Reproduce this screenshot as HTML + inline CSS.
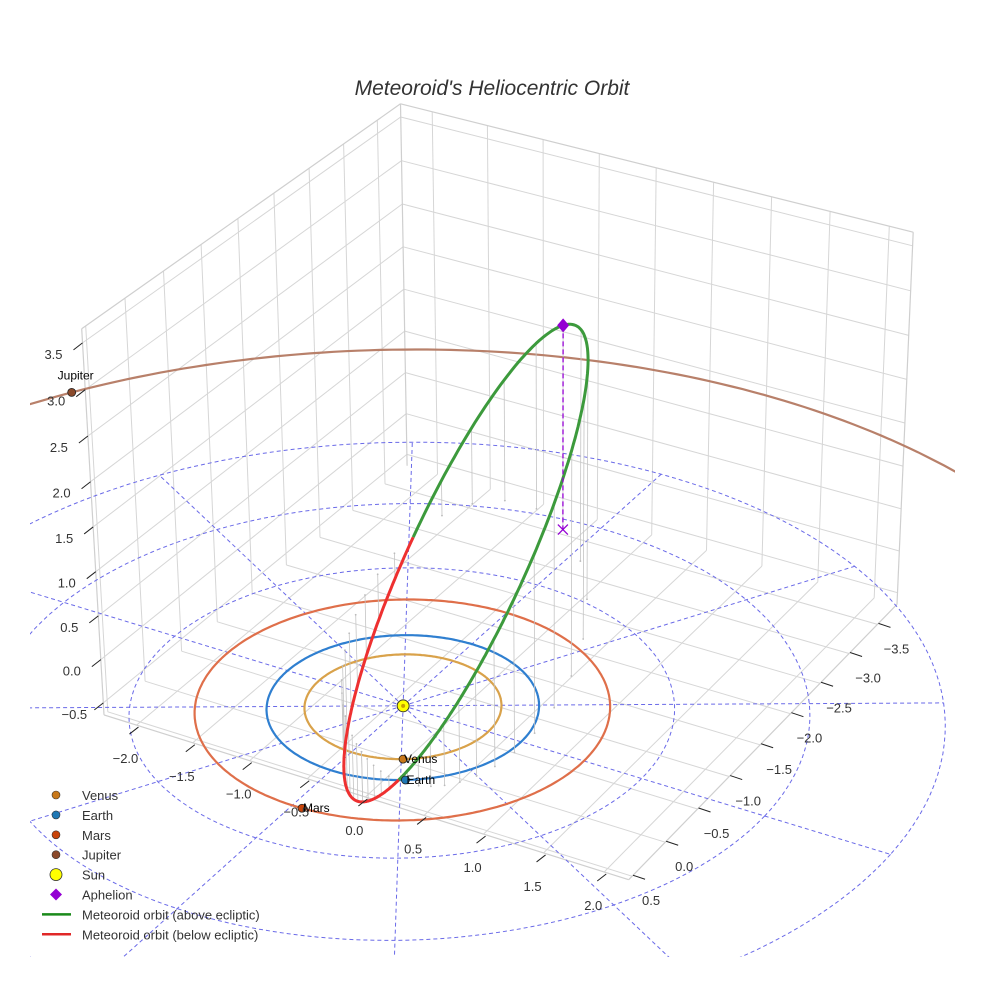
<!DOCTYPE html>
<html><head><meta charset="utf-8"><style>
html,body{margin:0;padding:0;background:#fff;overflow:hidden;width:984px;height:984px;}
svg{display:block;font-family:"Liberation Sans",Arial,sans-serif;}
</style></head><body>
<svg id="chart" width="984" height="984" viewBox="0 0 984 984" xmlns="http://www.w3.org/2000/svg" overflow="hidden">
<defs><clipPath id="scene-clip"><rect x="30" y="30" width="925" height="927"/></clipPath></defs>
<rect width="984" height="984" fill="#fff"/>
<g id="scene" clip-path="url(#scene-clip)"></g>
<g id="overlay"></g>
<text x="492" y="95" text-anchor="middle" font-size="21" font-style="italic" fill="#333">Meteoroid's Heliocentric Orbit</text>
<g id="legend"></g>
</svg>
<script>
// ---- data ----
const planetNames = ["Venus", "Earth", "Mars", "Jupiter"];
const planetRadiusAU = [0.723, 1.0, 1.524, 5.6];
const planetAngleDeg = [59, 58, 87, 210];
const planetOrbitColors = ["#d9a24a", "#2f7fd0", "#df6f4a", "#b8806a"];
const planetMarkerColors = ["#c8781a", "#1f77b4", "#c8440a", "#8b4a2b"];
const orbitSemiMajor = [2.3];
const orbitEccentricity = [0.612];
const orbitInclinationDeg = [64];
const orbitAscNodeDeg = [241];
const orbitArgPeriDeg = [225.4];
const eclipticRingRadii = [1, 2, 3, 4];
const eclipticSpokeAngles = [0, 30, 60, 90, 120, 150, 180, 210, 240, 270, 300, 330];
const xTicks = [-2.0, -1.5, -1.0, -0.5, 0.0, 0.5, 1.0, 1.5, 2.0];
const yTicks = [-3.5, -3.0, -2.5, -2.0, -1.5, -1.0, -0.5, 0.0, 0.5];
const zTicks = [-0.5, 0.0, 0.5, 1.0, 1.5, 2.0, 2.5, 3.0, 3.5];
const xRange = [-2.29, 2.2], yRange = [-3.85, 0.55], zRange = [-0.64, 3.65];

// ---- camera fit (DLT) from box corners ----
const camPts = [
  [[-2.29, 0.55, -0.64], [100, 726]],
  [[2.2, 0.55, -0.64], [619, 895]],
  [[2.2, -3.85, -0.64], [894, 613]],
  [[-2.29, 0.55, 3.65], [81, 335]],
  [[-2.29, -3.85, 3.65], [400, 103]],
  [[2.2, -3.85, 3.65], [914, 229]],
  [[0, 0, 0], [407, 699]],
  [[0, 0, 0], [407, 699]],
  [[0, 0, 0], [407, 699]],
  [[0, 0, 0], [407, 699]],
  [[0, 0, 0], [407, 699]],
  [[0, 0, 0], [407, 699]],
  [[-2.29, 0.55, 0], [98, 658]],
  [[-2.29, 0.55, 3.0], [82, 395]]
];
function fitCamera(pts){
  const A=[],b=[];
  pts.forEach(([[X,Y,Z],[u,v]])=>{
    A.push([X,Y,Z,1,0,0,0,0,-u*X,-u*Y,-u*Z]);b.push(u);
    A.push([0,0,0,0,X,Y,Z,1,-v*X,-v*Y,-v*Z]);b.push(v);
  });
  const n=11,N=[];
  for(let i=0;i<n;i++){N.push(new Array(n+1).fill(0));
    for(let j=0;j<n;j++){let s=0;for(let k=0;k<A.length;k++)s+=A[k][i]*A[k][j];N[i][j]=s;}
    let s=0;for(let k=0;k<A.length;k++)s+=A[k][i]*b[k];N[i][n]=s;}
  for(let c=0;c<n;c++){let p=c;for(let r=c+1;r<n;r++)if(Math.abs(N[r][c])>Math.abs(N[p][c]))p=r;
    [N[c],N[p]]=[N[p],N[c]];
    for(let r=0;r<n;r++){if(r===c)continue;const f=N[r][c]/N[c][c];for(let k=c;k<=n;k++)N[r][k]-=f*N[c][k];}}
  return N.map((row,i)=>row[n]/row[i]);
}
const M = fitCamera(camPts);
function P(x,y,z){const w=M[8]*x+M[9]*y+M[10]*z+1;
  return [(M[0]*x+M[1]*y+M[2]*z+M[3])/w,(M[4]*x+M[5]*y+M[6]*z+M[7])/w,w];}

const NS="http://www.w3.org/2000/svg";
const scene=document.getElementById('scene');
const overlay=document.getElementById('overlay');
const legend=document.getElementById('legend');
function mk(tag,attrs,parent){const e=document.createElementNS(NS,tag);for(const k in attrs)e.setAttribute(k,attrs[k]);parent.appendChild(e);return e;}
function line3(a,b,attrs,parent){const p=P(...a),q=P(...b);
  return mk('line',Object.assign({x1:p[0].toFixed(1),y1:p[1].toFixed(1),x2:q[0].toFixed(1),y2:q[1].toFixed(1)},attrs),parent);}
function pathFrom(pts){let d='',pen=false;
  pts.forEach(p=>{if(p[2]<=0.05||Math.abs(p[0])>5000||Math.abs(p[1])>5000){pen=false;return;}d+=(pen?'L':'M')+p[0].toFixed(1)+' '+p[1].toFixed(1);pen=true;});return d;}

// ---- box grid ----
const [x0,x1]=xRange,[y0,y1]=yRange,[z0,z1]=zRange;
const gridG=mk('g',{},scene);


const gs={stroke:'#d6d6d6','stroke-width':1};
xTicks.forEach(x=>{line3([x,y0,z0],[x,y1,z0],gs,gridG);line3([x,y0,z0],[x,y0,z1],gs,gridG);});
yTicks.forEach(y=>{line3([x0,y,z0],[x1,y,z0],gs,gridG);line3([x0,y,z0],[x0,y,z1],gs,gridG);});
zTicks.forEach(z=>{line3([x0,y0,z],[x1,y0,z],gs,gridG);line3([x0,y0,z],[x0,y1,z],gs,gridG);});
const es={stroke:'#cfcfcf','stroke-width':1.2};
[[[x0,y1,z0],[x1,y1,z0]],[[x1,y1,z0],[x1,y0,z0]],[[x0,y1,z0],[x0,y1,z1]],[[x1,y0,z0],[x1,y0,z1]],
 [[x0,y0,z1],[x0,y1,z1]],[[x0,y0,z1],[x1,y0,z1]],[[x0,y0,z0],[x0,y0,z1]]].forEach(([a,b])=>line3(a,b,es,gridG));

// ---- ticks ----
xTicks.forEach(x=>{const p=P(x,y1,z0);
  const t=mk('line',{x1:p[0]+2,y1:p[1]+2,x2:p[0]-7,y2:p[1]+9,stroke:'#222','stroke-width':1},overlay);
  
  const l=mk('text',{x:p[0]-11,y:p[1]+38,'text-anchor':'middle','font-size':13,fill:'#333'},overlay);
  
  l.textContent=x.toFixed(1).replace('-','\u2212');});
yTicks.forEach(y=>{const p=P(x1,y,z0);
  const t=mk('line',{x1:p[0]+1,y1:p[1]-1,x2:p[0]+13,y2:p[1]+3,stroke:'#222','stroke-width':1},overlay);
  
  const l=mk('text',{x:p[0]+19,y:p[1]+29,'text-anchor':'middle','font-size':13,fill:'#333'},overlay);
  
  l.textContent=y.toFixed(1).replace('-','\u2212');});
zTicks.forEach(z=>{const p=P(x0,y1,z);
  const t=mk('line',{x1:p[0],y1:p[1],x2:p[0]-9,y2:p[1]+7,stroke:'#222','stroke-width':1},overlay);
  
  const l=mk('text',{x:p[0]-29,y:p[1]+16,'text-anchor':'middle','font-size':13,fill:'#333'},overlay);
  
  l.textContent=z.toFixed(1).replace('-','\u2212');});

// ---- ecliptic reference grid ----
const ecl=mk('g',{fill:'none',stroke:'#6a6ae8','stroke-width':1,'stroke-dasharray':'4,3'},scene);


eclipticRingRadii.forEach(r=>{const pts=[];for(let a=0;a<=360;a+=2){const t=a*Math.PI/180;pts.push(P(r*Math.cos(t),r*Math.sin(t),0));}
  const e=mk('path',{d:pathFrom(pts)},ecl);});
const rMax=eclipticRingRadii[eclipticRingRadii.length-1];
eclipticSpokeAngles.forEach(a=>{const t=a*Math.PI/180;
  const e=line3([0,0,0],[rMax*Math.cos(t),rMax*Math.sin(t),0],{},ecl);});

// ---- planet orbits ----
planetNames.forEach((n,i)=>{const pts=[];const r=planetRadiusAU[i];
  for(let a=0;a<=360;a+=1){const t=a*Math.PI/180;pts.push(P(r*Math.cos(t),r*Math.sin(t),0));}
  const e=mk('path',{d:pathFrom(pts),fill:'none',stroke:planetOrbitColors[i],'stroke-width':2.2},scene);
  
  });

// ---- meteoroid orbit ----
function orbitPos(nuDeg){const a=orbitSemiMajor[0],e=orbitEccentricity[0];
  const i=orbitInclinationDeg[0]*Math.PI/180,O=orbitAscNodeDeg[0]*Math.PI/180,w=orbitArgPeriDeg[0]*Math.PI/180;
  const nu=nuDeg*Math.PI/180,r=a*(1-e*e)/(1+e*Math.cos(nu)),u=w+nu;
  return [r*(Math.cos(O)*Math.cos(u)-Math.sin(O)*Math.sin(u)*Math.cos(i)),
          r*(Math.sin(O)*Math.cos(u)+Math.cos(O)*Math.sin(u)*Math.cos(i)),
          r*Math.sin(u)*Math.sin(i)];}
const samples=[];for(let nu=0;nu<=360;nu+=1)samples.push(orbitPos(nu));
// drop lines
const drops=mk('g',{stroke:'#c4c4c4','stroke-width':0.8},scene);


samples.forEach((s,k)=>{if(k%9)return;line3(s,[s[0],s[1],0],{},drops);
  const g=P(s[0],s[1],0);mk('circle',{cx:g[0],cy:g[1],r:0.9,fill:'#bbb',stroke:'none'},drops);});
// split into above/below
const segs=[];let cur=null,prev=null;
samples.forEach(s=>{const above=s[2]>=0;
  if(!cur||cur.above!==above){cur={above,pts:prev?[prev]:[]};segs.push(cur);}
  cur.pts.push(s);prev=s;});
segs.forEach(sg=>{const e=mk('path',{d:pathFrom(sg.pts.map(s=>P(...s))),fill:'none',stroke:sg.above?'#3c9a3c':'#ee3030','stroke-width':3,'stroke-linejoin':'round'},scene);
  
  });
// aphelion
const aph=orbitPos(180),aS=P(...aph),aG=P(aph[0],aph[1],0);
const aLine=mk('line',{x1:aS[0],y1:aS[1],x2:aG[0],y2:aG[1],stroke:'#9400d3','stroke-width':1.3,'stroke-dasharray':'5,3'},scene);


const aX=mk('path',{d:`M${aG[0]-5} ${aG[1]-5}L${aG[0]+5} ${aG[1]+5}M${aG[0]-5} ${aG[1]+5}L${aG[0]+5} ${aG[1]-5}`,stroke:'#9400d3','stroke-width':1.3},scene);


const aM=mk('path',{d:`M${aS[0]} ${aS[1]-7}L${aS[0]+6} ${aS[1]}L${aS[0]} ${aS[1]+7}L${aS[0]-6} ${aS[1]}Z`,fill:'#9400d3'},scene);



// ---- planets & sun ----
planetNames.forEach((n,i)=>{const t=planetAngleDeg[i]*Math.PI/180,r=planetRadiusAU[i];
  const p=P(r*Math.cos(t),r*Math.sin(t),0);
  const c=mk('circle',{cx:p[0],cy:p[1],r:4,fill:planetMarkerColors[i],stroke:'#222','stroke-width':0.8},scene);
  
  
  const isJ=n==='Jupiter';
  const l=mk('text',{x:isJ?p[0]+4:p[0]+1,y:isJ?p[1]-13:p[1]+4,'text-anchor':isJ?'middle':'start','font-size':12,fill:'#000'},scene);
  
  
  l.textContent=n;});
const sp=P(0,0,0);
const sun=mk('circle',{cx:sp[0],cy:sp[1],r:6,fill:'#ffff00',stroke:'#333','stroke-width':1},scene);


mk('circle',{cx:sp[0],cy:sp[1],r:2,fill:'#c8a000'},scene);

// ---- legend ----
const legendLabels=["Venus","Earth","Mars","Jupiter","Sun","Aphelion","Meteoroid orbit (above ecliptic)","Meteoroid orbit (below ecliptic)"];
legendLabels.forEach((lab,k)=>{const y=795+k*19.9;
  const g=mk('g',{},legend);
  
  
  if(k<4)mk('circle',{cx:56,cy:y,r:4,fill:planetMarkerColors[k],stroke:'#333','stroke-width':0.6},g);
  else if(k===4)mk('circle',{cx:56,cy:y,r:6,fill:'#ffff00',stroke:'#333','stroke-width':0.8},g);
  else if(k===5)mk('path',{d:`M56 ${y-6}L62 ${y}L56 ${y+6}L50 ${y}Z`,fill:'#9400d3'},g);
  else mk('line',{x1:42,y1:y,x2:71,y2:y,stroke:k===6?'#1a8a1a':'#e02828','stroke-width':2.5},g);
  const t=mk('text',{x:82,y:y+5,'font-size':13,fill:'#333'},g);t.textContent=lab;});
</script>
</body></html>
